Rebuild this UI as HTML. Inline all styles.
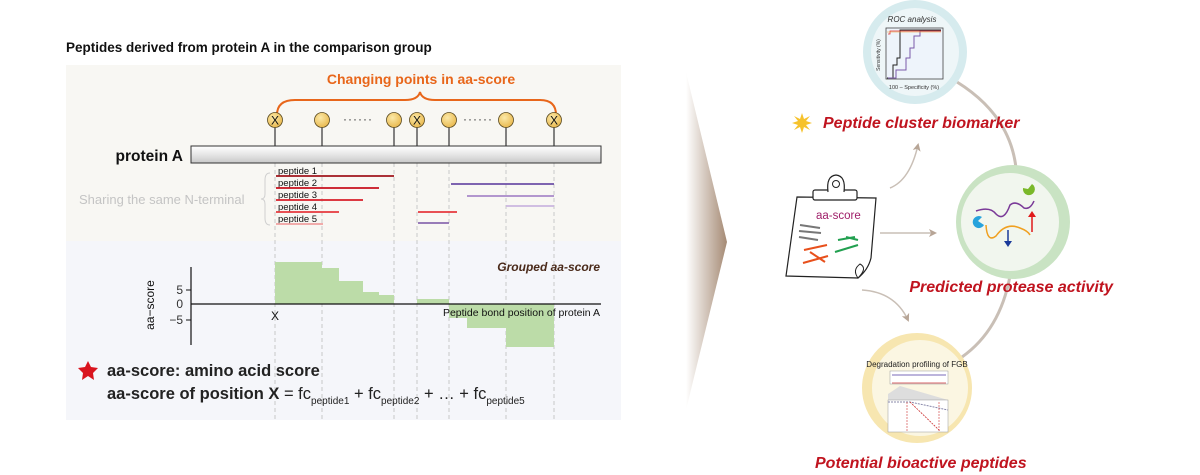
<!DOCTYPE html>
<html><head><meta charset="utf-8"><style>
html,body{margin:0;padding:0;background:#fff;}
svg{display:block;font-family:"Liberation Sans",sans-serif;}
</style></head><body>
<svg width="1200" height="475" viewBox="0 0 1200 475" xmlns="http://www.w3.org/2000/svg">
<defs>
<linearGradient id="chev" x1="0" x2="1" y1="0" y2="0">
<stop offset="0" stop-color="#ffffff"/><stop offset="1" stop-color="#a58a74"/></linearGradient>
<linearGradient id="bar" x1="0" x2="0" y1="0" y2="1">
<stop offset="0" stop-color="#ffffff"/><stop offset="0.5" stop-color="#e6e6e6"/><stop offset="1" stop-color="#c8c8c8"/></linearGradient>
<radialGradient id="ball" cx="0.4" cy="0.35" r="0.7">
<stop offset="0" stop-color="#fbe9a8"/><stop offset="1" stop-color="#e8b64a"/></radialGradient>
<marker id="ah" markerWidth="8" markerHeight="8" refX="6" refY="4" orient="auto" markerUnits="userSpaceOnUse">
<path d="M0,0 L8,4 L0,8 L2,4 z" fill="#b7a596"/></marker>
</defs>

<!-- left panel -->
<text x="66" y="52" font-size="13.5" font-weight="bold" fill="#111">Peptides derived from protein A in the comparison group</text>
<rect x="66" y="65" width="555" height="176" fill="#f8f7f3"/>
<rect x="66" y="241" width="555" height="179" fill="#f5f6fa"/>

<text x="421" y="84" font-size="14" font-weight="bold" fill="#e8661a" text-anchor="middle">Changing points in aa-score</text>
<path d="M277,115 Q277,100 295,100 L405,100 Q418,100 420,92 Q422,100 435,100 L540,100 Q556,100 556,115" fill="none" stroke="#e8661a" stroke-width="2"/>

<!-- dashed verticals -->
<g stroke="#c8c8c8" stroke-width="1" stroke-dasharray="4,3">
<line x1="275" y1="163" x2="275" y2="420"/><line x1="322" y1="163" x2="322" y2="420"/>
<line x1="394" y1="163" x2="394" y2="420"/><line x1="417" y1="163" x2="417" y2="420"/>
<line x1="449" y1="163" x2="449" y2="420"/><line x1="506" y1="163" x2="506" y2="420"/>
<line x1="554" y1="163" x2="554" y2="420"/>
</g>
<g stroke="#333" stroke-width="1.2">
<line x1="275" y1="126" x2="275" y2="147"/><line x1="322" y1="126" x2="322" y2="147"/>
<line x1="394" y1="126" x2="394" y2="147"/><line x1="417" y1="126" x2="417" y2="147"/>
<line x1="449" y1="126" x2="449" y2="147"/><line x1="506" y1="126" x2="506" y2="147"/>
<line x1="554" y1="126" x2="554" y2="147"/>
</g>
<g stroke="#5a4a20" stroke-width="0.8" fill="url(#ball)">
<circle cx="275" cy="120" r="7.5"/><circle cx="322" cy="120" r="7.5"/>
<circle cx="394" cy="120" r="7.5"/><circle cx="417" cy="120" r="7.5"/>
<circle cx="449" cy="120" r="7.5"/><circle cx="506" cy="120" r="7.5"/>
<circle cx="554" cy="120" r="7.5"/>
</g>
<g font-size="12" text-anchor="middle" fill="#111">
<text x="275" y="124.5">X</text><text x="417" y="124.5">X</text><text x="554" y="124.5">X</text></g>
<text x="358" y="123" font-size="12" text-anchor="middle" fill="#333" letter-spacing="1">······</text>
<text x="478" y="123" font-size="12" text-anchor="middle" fill="#333" letter-spacing="1">······</text>

<text x="183" y="161" font-size="15.5" font-weight="bold" text-anchor="end" fill="#111">protein A</text>
<rect x="191" y="146" width="410" height="17" fill="url(#bar)" stroke="#333" stroke-width="1"/>

<text x="79" y="204" font-size="13" fill="#c4c4c4">Sharing the same N-terminal</text>
<path d="M270,173 Q265,173 265,180 L265,194 Q265,199 261,199 Q265,199 265,204 L265,218 Q265,225 270,225" fill="none" stroke="#cfcfcf" stroke-width="1"/>
<g font-size="9.5" fill="#111">
<text x="278" y="174">peptide 1</text><text x="278" y="186">peptide 2</text>
<text x="278" y="198">peptide 3</text><text x="278" y="210">peptide 4</text>
<text x="278" y="222">peptide 5</text></g>
<g stroke-width="1.8">
<line x1="276" y1="176" x2="394" y2="176" stroke="#a0151c"/>
<line x1="276" y1="188" x2="379" y2="188" stroke="#c8101e"/>
<line x1="276" y1="200" x2="363" y2="200" stroke="#d81e28"/>
<line x1="276" y1="212" x2="339" y2="212" stroke="#e6383e"/>
<line x1="276" y1="224" x2="323" y2="224" stroke="#f0a0a0"/>
<line x1="451" y1="184" x2="554" y2="184" stroke="#6d4fa6"/>
<line x1="467" y1="196" x2="554" y2="196" stroke="#a988c8"/>
<line x1="506" y1="206" x2="554" y2="206" stroke="#cbb6df"/>
<line x1="418" y1="212" x2="457" y2="212" stroke="#e6383e"/>
<line x1="418" y1="223" x2="449" y2="223" stroke="#8a6bb0"/>
</g>

<!-- chart -->
<g fill="#bcdca8">
<rect x="275" y="262" width="47" height="42"/><rect x="322" y="268" width="17" height="36"/>
<rect x="339" y="281" width="24" height="23"/><rect x="363" y="292" width="16" height="12"/>
<rect x="379" y="295" width="15" height="9"/><rect x="417" y="299" width="32" height="5"/>
<rect x="449" y="304" width="18" height="14"/><rect x="467" y="304" width="39" height="24"/>
<rect x="506" y="304" width="48" height="43"/>
</g>
<line x1="191" y1="267" x2="191" y2="345" stroke="#111" stroke-width="1.2"/>
<line x1="191" y1="304" x2="601" y2="304" stroke="#111" stroke-width="1.2"/>
<line x1="186" y1="290" x2="191" y2="290" stroke="#111"/>
<line x1="186" y1="320" x2="191" y2="320" stroke="#111"/>
<g font-size="12" fill="#333" text-anchor="end">
<text x="183" y="294">5</text><text x="183" y="308">0</text><text x="183" y="324">−5</text></g>
<text transform="translate(154,305) rotate(-90)" font-size="12" fill="#111" text-anchor="middle">aa−score</text>
<text x="275" y="320" font-size="12" fill="#111" text-anchor="middle">X</text>
<text x="600" y="316" font-size="10.5" fill="#111" text-anchor="end">Peptide bond position of protein A</text>
<text x="600" y="271" font-size="12" font-weight="bold" font-style="italic" fill="#4a2a1a" text-anchor="end">Grouped aa-score</text>

<polygon points="88,361 91,367 98,368 93,373 94,380 88,376 82,380 83,373 78,368 85,367" fill="#d9141e"/>
<text x="107" y="376" font-size="16.5" font-weight="bold" fill="#222">aa-score: amino acid score</text>
<text x="107" y="399" font-size="16.5" fill="#222"><tspan font-weight="bold">aa-score of position X</tspan> = fc<tspan font-size="10" dy="5">peptide1</tspan><tspan dy="-5"> + fc</tspan><tspan font-size="10" dy="5">peptide2</tspan><tspan dy="-5"> + … + fc</tspan><tspan font-size="10" dy="5">peptide5</tspan></text>

<!-- chevron -->
<polygon points="686,72 727,242 686,410" fill="url(#chev)"/>

<!-- right side -->
<path d="M957,82 Q1010,115 1016,168" fill="none" stroke="#c9bfb6" stroke-width="3"/>
<path d="M1010,276 Q1000,330 962,357" fill="none" stroke="#c9bfb6" stroke-width="3"/>

<circle cx="915" cy="52" r="52" fill="#d6ebee"/>
<circle cx="915" cy="52" r="44" fill="#eef6f8"/>
<text x="912" y="22" font-size="8" font-style="italic" fill="#333" text-anchor="middle">ROC analysis</text>
<rect x="886" y="28" width="57" height="51" fill="#eef4fb" stroke="#444" stroke-width="0.8"/>
<path d="M887,78 L893,78 L893,65 L897,65 L897,58 L900,58 L900,30 L941,30" fill="none" stroke="#222" stroke-width="1"/>
<path d="M888,78 L896,78 L896,70 L906,70 L906,58 L910,58 L910,48 L914,48 L914,36 L920,36 L920,31 L941,31" fill="none" stroke="#7a5aa8" stroke-width="1"/>
<path d="M888,34 L890,34 L890,31 L941,31" fill="none" stroke="#d33" stroke-width="0.8"/>
<path d="M887,32 L941,32" fill="none" stroke="#f0a030" stroke-width="0.6"/>
<text transform="translate(880,55) rotate(-90)" font-size="5" fill="#333" text-anchor="middle">Sensitivity (%)</text>
<text x="914" y="89" font-size="5.5" fill="#333" text-anchor="middle">100 – Specificity (%)</text>

<polygon points="802,113 804,119 810,116 806,121 812,123 806,125 810,130 804,127 802,133 800,127 794,130 798,125 792,123 798,121 794,116 800,119" fill="#f6c22c"/>
<text x="823" y="128" font-size="16" font-weight="bold" font-style="italic" fill="#c0141f">Peptide cluster biomarker</text>

<circle cx="1013" cy="222" r="57" fill="#c9e3c3"/>
<circle cx="1010" cy="222" r="49" fill="#f1f6ee"/>
<path d="M976,211 Q990,206 996,214 Q1004,222 1010,205 Q1016,200 1024,208 Q1030,210 1034,201" fill="none" stroke="#7a3a98" stroke-width="1.5"/>
<path d="M986,225 Q987,243 996,236 Q1006,222 1020,228 Q1028,231 1030,235" fill="none" stroke="#f0a020" stroke-width="1.5"/>
<path d="M1023,188 a6,6 0 1 0 9,-4 l-4,5 z" fill="#7ab82a"/>
<path d="M984,225 a6,6 0 1 1 -2,-8 l-4,4 z" fill="#27a3dc"/>
<line x1="1032" y1="232" x2="1032" y2="215" stroke="#e01a1a" stroke-width="1.5"/><polygon points="1028,217 1036,217 1032,211" fill="#e01a1a"/>
<line x1="1008" y1="230" x2="1008" y2="243" stroke="#1a3a9a" stroke-width="1.5"/><polygon points="1004,241 1012,241 1008,247" fill="#1a3a9a"/>
<text x="1113" y="292" font-size="16" font-weight="bold" font-style="italic" fill="#c0141f" text-anchor="end">Predicted protease activity</text>

<circle cx="917" cy="388" r="55" fill="#f7e6b0"/>
<circle cx="920" cy="388" r="48" fill="#fbf6e2"/>
<text x="917" y="367" font-size="8" fill="#222" text-anchor="middle">Degradation profiling of FGB</text>
<rect x="890" y="371" width="58" height="13" fill="#fff" stroke="#999" stroke-width="0.5"/>
<line x1="892" y1="375" x2="946" y2="375" stroke="#7a6ab8" stroke-width="1"/>
<line x1="892" y1="383" x2="946" y2="383" stroke="#c33" stroke-width="0.8"/>
<polygon points="888,394 900,386 948,400 888,402" fill="#ddd"/>
<rect x="888" y="400" width="60" height="32" fill="#fff" stroke="#999" stroke-width="0.5"/>
<path d="M888,402 L910,402 L948,410" fill="none" stroke="#88a" stroke-width="1" stroke-dasharray="2,1"/>
<path d="M910,402 L940,431" fill="none" stroke="#c33" stroke-width="0.8" stroke-dasharray="2,1"/>
<line x1="907" y1="402" x2="907" y2="431" stroke="#c33" stroke-width="0.6" stroke-dasharray="2,1"/>
<line x1="939" y1="402" x2="939" y2="431" stroke="#c33" stroke-width="0.6" stroke-dasharray="2,1"/>
<text x="815" y="468" font-size="16" font-weight="bold" font-style="italic" fill="#c0141f">Potential bioactive peptides</text>

<!-- clipboard -->
<path d="M797,197 L876,198 L871,258 Q868,270 858,278 L786,276 Z" fill="#fff" stroke="#222" stroke-width="1.2"/>
<path d="M860,264 Q868,268 858,278 Q852,270 860,264 Z" fill="#fff" stroke="#222" stroke-width="1"/>
<rect x="813" y="190" width="44" height="10" rx="2" fill="#fff" stroke="#222" stroke-width="1.2"/>
<path d="M828,192 Q826,176 836,175 Q846,176 844,192" fill="#fff" stroke="#222" stroke-width="1.2"/>
<circle cx="836" cy="184" r="3.5" fill="none" stroke="#222" stroke-width="1"/>
<text x="816" y="219" font-size="11.5" fill="#a0206a">aa-score</text>
<g stroke="#777" stroke-width="2"><line x1="800" y1="225" x2="820" y2="228"/><line x1="799" y1="231" x2="821" y2="233"/><line x1="799" y1="237" x2="818" y2="240"/></g>
<g stroke="#22a050" stroke-width="2"><line x1="838" y1="240" x2="855" y2="237"/><line x1="846" y1="237" x2="858" y2="240"/><line x1="835" y1="252" x2="858" y2="245"/></g>
<g stroke="#e8501c" stroke-width="2"><line x1="804" y1="250" x2="827" y2="245"/><line x1="803" y1="263" x2="828" y2="256"/><line x1="810" y1="252" x2="825" y2="262"/></g>

<!-- arrows -->
<path d="M890,188 Q910,180 918,145" fill="none" stroke="#c9bfb6" stroke-width="1.5" marker-end="url(#ah)"/>
<path d="M880,233 L935,233" fill="none" stroke="#c9bfb6" stroke-width="1.5" marker-end="url(#ah)"/>
<path d="M862,290 Q895,292 908,320" fill="none" stroke="#c9bfb6" stroke-width="1.5" marker-end="url(#ah)"/>
</svg>
</body></html>
